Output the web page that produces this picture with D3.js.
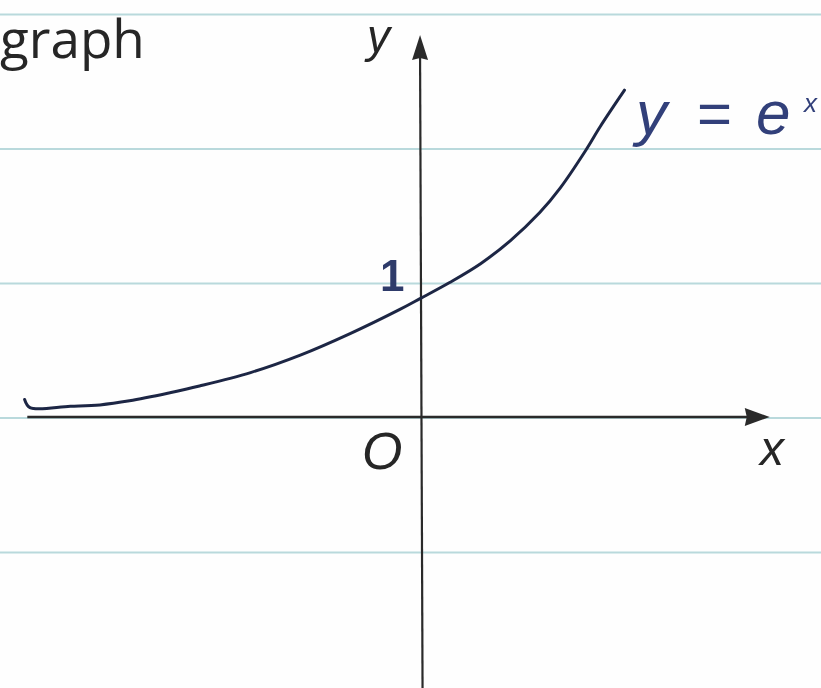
<!DOCTYPE html>
<html>
<head>
<meta charset="utf-8">
<script src="https://cdn.jsdelivr.net/npm/d3@7/dist/d3.min.js"></script>
<style>
  html, body { margin: 0; padding: 0; background: #fff; }
  svg { display: block; }
</style>
</head>
<body>
<div id="chart"></div>
<script>
// Hand-sketched curve of y = e^x, sampled along the drawn stroke
const curveX = [-2.94, -2.90, -2.60, -2.38, -2.16, -1.86, -1.64, -1.26, -0.89, -0.52, -0.15, 0.00, 0.22, 0.45, 0.67, 0.89, 1.04, 1.23, 1.34, 1.52];
const curveY = [0.13, 0.07, 0.08, 0.09, 0.12, 0.18, 0.23, 0.33, 0.46, 0.62, 0.80, 0.88, 1.00, 1.14, 1.31, 1.52, 1.70, 1.98, 2.16, 2.43];

// Ruled paper lines, one per unit of y
const ruleValues = [-1, 0, 1, 2, 3];
// Tick label on the y axis
const yTickLabels = [{ v: 1, text: "1" }];
// Extent of the drawn axes
const xAxisRange = [-2.92, 2.60];
const yAxisRange = [-2.02, 2.84];

const W = 821, H = 688;
const x = d3.scaleLinear().domain([-3.123, 2.981]).range([0, W]);
const y = d3.scaleLinear().domain([3.1004, -2.015]).range([0, H]);

const svg = d3.select("#chart").append("svg")
  .attr("width", W).attr("height", H)
  .attr("viewBox", `0 0 ${W} ${H}`);

svg.append("rect").attr("width", W).attr("height", H).attr("fill", "#fefefe");

const defs = svg.append("defs");
defs.append("filter").attr("id", "soft")
  .attr("filterUnits", "userSpaceOnUse")
  .attr("x", -10).attr("y", -10).attr("width", W + 20).attr("height", H + 20)
  .append("feGaussianBlur").attr("stdDeviation", 0.6);

// ruled lines
svg.append("g").attr("filter", "url(#soft)")
  .selectAll("line").data(ruleValues).join("line")
  .attr("x1", 0).attr("x2", W)
  .attr("y1", d => y(d) + 1).attr("y2", d => y(d) + 1)
  .attr("stroke", "#b9d9dc").attr("stroke-width", 2.2);

const axisColor = "#2b2b2b";
const axes = svg.append("g").attr("filter", "url(#soft)");

// x axis with arrowhead
const xTip = x(xAxisRange[1]);
axes.append("line")
  .attr("x1", x(xAxisRange[0])).attr("x2", xTip - 20)
  .attr("y1", y(0)).attr("y2", y(0))
  .attr("stroke", axisColor).attr("stroke-width", 2.4);
axes.append("path")
  .attr("d", `M${xTip},${y(0)} L${xTip - 25},${y(0) - 9} L${xTip - 23},${y(0)} L${xTip - 25},${y(0) + 9} Z`)
  .attr("fill", axisColor);

// y axis with arrowhead
const yTip = y(yAxisRange[1]);
axes.append("line")
  .attr("x1", x(0) + 2.5).attr("x2", x(0))
  .attr("y1", y(yAxisRange[0])).attr("y2", yTip + 20)
  .attr("stroke", axisColor).attr("stroke-width", 2.2);
axes.append("path")
  .attr("d", `M${x(0)},${yTip} L${x(0) - 8},${yTip + 25} L${x(0)},${yTip + 23} L${x(0) + 8},${yTip + 25} Z`)
  .attr("fill", axisColor);

// the curve
const pts = curveX.map((v, i) => [v, curveY[i]]);
const line = d3.line().x(d => x(d[0])).y(d => y(d[1])).curve(d3.curveCatmullRom.alpha(0.5));
svg.append("path")
  .datum(pts)
  .attr("d", line)
  .attr("fill", "none")
  .attr("stroke", "#1e2644")
  .attr("stroke-width", 3)
  .attr("stroke-linecap", "round")
  .attr("stroke-linejoin", "round")
  .attr("filter", "url(#soft)");

const labels = svg.append("g").attr("filter", "url(#soft)");
const sans = "'Liberation Sans', 'DejaVu Sans', sans-serif";

// heading fragment
labels.append("text")
  .attr("x", 0).attr("y", 58)
  .attr("font-family", "'Open Sans', sans-serif")
  .attr("font-size", 53)
  .attr("fill", "#262626")
  .text("graph");

// axis names
labels.append("text")
  .attr("x", 367).attr("y", 52)
  .attr("font-family", sans).attr("font-style", "italic")
  .attr("font-size", 46).attr("fill", "#262626")
  .text("y");
labels.append("text")
  .attr("x", 760).attr("y", 465)
  .attr("font-family", sans).attr("font-style", "italic")
  .attr("font-size", 48).attr("fill", "#262626")
  .text("x");

// origin
labels.append("text")
  .attr("x", 362).attr("y", 469)
  .attr("font-family", sans).attr("font-style", "italic")
  .attr("font-size", 52).attr("fill", "#262626")
  .text("O");

// tick label
labels.selectAll("text.tick").data(yTickLabels).join("text")
  .attr("class", "tick")
  .attr("x", x(0) - 40).attr("y", d => y(d.v) + 9)
  .attr("font-family", sans).attr("font-weight", "bold")
  .attr("font-size", 44).attr("fill", "#2f3a6a")
  .text(d => d.text);

// curve equation
const eqParts = [
  { t: "y", x: 636, yy: 134, size: 62, italic: true },
  { t: "=", x: 697, yy: 134, size: 60, italic: false },
  { t: "e", x: 756, yy: 134, size: 62, italic: true },
  { t: "x", x: 804, yy: 112, size: 26, italic: true }
];
labels.selectAll("text.eq").data(eqParts).join("text")
  .attr("class", "eq")
  .attr("x", d => d.x).attr("y", d => d.yy)
  .attr("font-family", sans)
  .attr("fill", "#33407a")
  .attr("font-size", d => d.size)
  .attr("font-style", d => d.italic ? "italic" : "normal")
  .text(d => d.t);
</script>
</body>
</html>
